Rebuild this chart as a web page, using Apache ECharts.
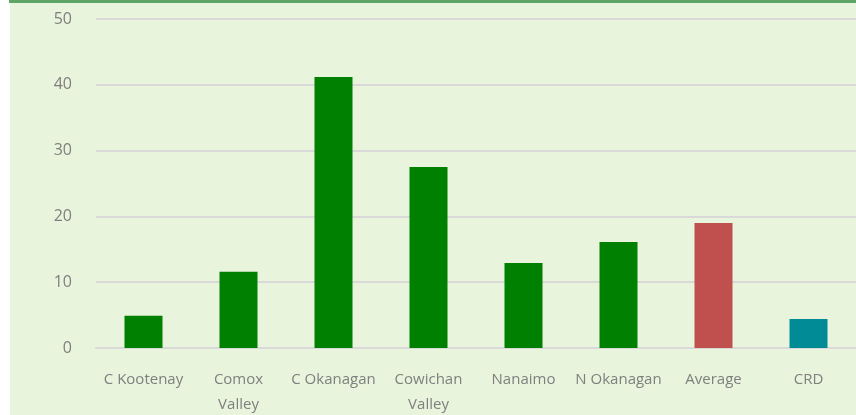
<!DOCTYPE html>
<html>
  <head>
    <meta charset="utf-8" />
    <script src="https://cdn.jsdelivr.net/npm/echarts@6/dist/echarts.min.js"></script>
    <style>
      html, body { margin: 0; padding: 0; background: #ffffff; }
    </style>
  </head>
  <body>
    <div id="main" style="width: 856px;height:415px;"></div>
    <script type="text/javascript">
      var categories = ['C Kootenay', 'Comox\nValley', 'C Okanagan', 'Cowichan\nValley', 'Nanaimo', 'N Okanagan', 'Average', 'CRD'];
      var values = [4.9, 11.6, 41.2, 27.5, 12.9, 16.1, 19.0, 4.4];
      var barColors = ['#008000', '#008000', '#008000', '#008000', '#008000', '#008000', '#c0504d', '#008b96'];
      var yTicks = [0, 10, 20, 30, 40, 50];

      var myChart = echarts.init(document.getElementById('main'));

      var option = {
        animation: false,
        graphic: [
          {
            type: 'rect',
            left: 10, top: 0, z: -10,
            shape: { width: 846, height: 415 },
            style: { fill: '#e8f4dc' }
          },
          {
            type: 'rect',
            left: 9, top: 0, z: -9,
            shape: { width: 847, height: 3 },
            style: { fill: '#5ea567' }
          }
        ],
        grid: { left: 96, right: 0, top: 19, bottom: 67, containLabel: false, outerBoundsMode: 'none' },
        xAxis: {
          type: 'category',
          data: categories,
          axisTick: { show: false },
          axisLine: { lineStyle: { color: '#d9d9d9', width: 2 } },
          axisLabel: {
            color: '#7f7f7f',
            fontFamily: 'Open Sans',
            fontSize: 15,
            margin: 19,
            lineHeight: 25,
            interval: 0
          }
        },
        yAxis: {
          type: 'value',
          min: yTicks[0],
          max: yTicks[yTicks.length - 1],
          interval: 10,
          axisLine: { show: false },
          axisTick: { show: false },
          splitLine: { lineStyle: { color: '#d9d9d9', width: 2 } },
          axisLabel: {
            color: '#7f7f7f',
            fontFamily: 'Open Sans',
            fontSize: 16,
            margin: 24
          }
        },
        series: [
          {
            type: 'bar',
            barWidth: '40%',
            data: values.map(function (v, i) {
              return { value: v, itemStyle: { color: barColors[i] } };
            })
          }
        ]
      };

      myChart.setOption(option);
    </script>
  </body>
</html>
